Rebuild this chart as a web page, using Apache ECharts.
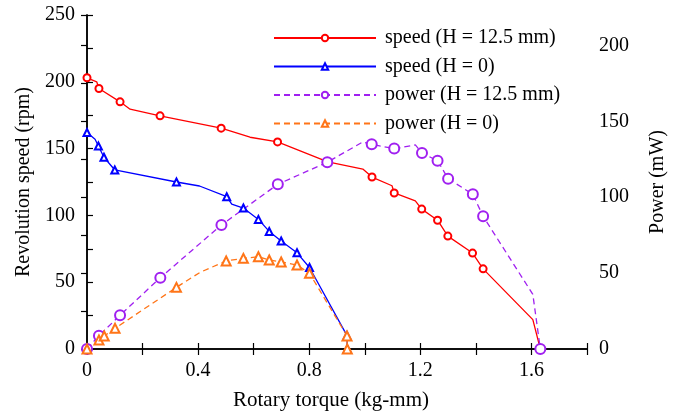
<!DOCTYPE html>
<html>
<head>
<meta charset="utf-8">
<script src="https://cdn.jsdelivr.net/npm/echarts@6/dist/echarts.min.js"></script>
<style>
  html, body { margin: 0; padding: 0; background: #fff; }
  #chart { width: 681px; height: 413px; }
</style>
</head>
<body>
<div id="chart"></div>
<script>
// Measured points (torque kg-mm, speed rpm / power mW)
const speedH125Points = [[0,203],[0.043,195],[0.119,185],[0.263,174.5],[0.483,165.3],[0.686,155],[0.867,140],[1.026,128.7],[1.106,116.8],[1.205,104.7],[1.262,96.4],[1.299,84.5],[1.388,71.8],[1.426,60],[1.632,0]];
const speedH125Bends  = [[0.035,200],[0.155,179.5],[0.587,158.5],[0.993,134.7],[1.098,122.2],[1.182,110.8],[1.605,22]];

const speedH0Points = [[0,162],[0.041,152],[0.061,143.5],[0.100,134],[0.322,125],[0.503,114],[0.563,105.5],[0.617,97],[0.656,88],[0.699,80.8],[0.756,72],[0.801,61],[0.936,10],[0.937,0]];
const speedH0Bends  = [[0.029,157],[0.405,122],[0.521,108.5]];

const powerH125Points = [[0,0],[0.043,8.8],[0.119,22.2],[0.264,47],[0.484,81.7],[0.687,108.5],[0.865,123],[1.025,134.8],[1.106,132],[1.206,129.1],[1.262,124],[1.300,112.2],[1.389,101.9],[1.426,87.4],[1.632,0]];
const powerH125Bends  = [[0.993,136.4],[1.182,134.4],[1.605,36]];

const powerH0Points = [[0,0],[0.043,5.9],[0.062,8.6],[0.101,13.6],[0.322,40.6],[0.501,58],[0.563,59.7],[0.617,60.8],[0.656,58.6],[0.699,57.3],[0.756,55.3],[0.801,49.9],[0.936,8.6],[0.937,0]];
const powerH0Bends  = [[0.407,50.5]];

const seriesNames = ['speed (H = 12.5 mm)', 'speed (H = 0)', 'power (H = 12.5 mm)', 'power (H = 0)'];
const xTickLabels = ['0', '0.4', '0.8', '1.2', '1.6'];

// Merge marked points with unmarked bend vertices, ordered along the curve
function buildCurve(points, bends) {
  const items = points.map(p => ({ value: p }));
  bends.forEach(b => items.push({ value: b, symbol: 'none' }));
  items.sort((a, b) => (a.value[0] - b.value[0]) || (b.value[1] - a.value[1]));
  return items;
}

const FONT = '"Liberation Serif", "DejaVu Serif", serif';
const chart = echarts.init(document.getElementById('chart'));

function lineSeries(name, points, bends, color, dashed, symbol, size, width, yIdx) {
  return {
    name: name,
    type: 'line',
    yAxisIndex: yIdx,
    data: buildCurve(points, bends),
    symbol: symbol,
    symbolSize: size,
    showSymbol: true,
    animation: false,
    lineStyle: { color: color, width: 1.3, type: dashed ? [6, 4] : 'solid' },
    itemStyle: { color: color, borderColor: color, borderWidth: width },
    emphasis: { disabled: true }
  };
}

chart.setOption({
  backgroundColor: '#fff',
  animation: false,
  grid: { left: 87, right: 94, top: 15, bottom: 64, containLabel: false, outerBoundsMode: 'none' },
  legend: {
    show: true,
    orient: 'vertical',
    left: 268,
    top: 23,
    itemWidth: 102,
    itemHeight: 8,
    itemGap: 8.5,
    textStyle: { fontFamily: FONT, fontSize: 20, color: '#000', padding: [0, 0, 0, 4] },
    data: seriesNames
  },
  xAxis: [{
    type: 'value',
    min: 0, max: 1.8, interval: 0.2,
    name: 'Rotary torque (kg-mm)',
    nameLocation: 'middle',
    nameGap: 41,
    nameTextStyle: { fontFamily: FONT, fontSize: 21, color: '#000', padding: [0, 12, 0, 0] },
    axisLine: { lineStyle: { color: '#000', width: 1.5 } },
    axisTick: { inside: true, length: 6, lineStyle: { color: '#000', width: 1.2 } },
    axisLabel: {
      fontFamily: FONT, fontSize: 20, color: '#000', margin: 12,
      formatter: v => { const k = Math.round(v * 10); return k % 4 === 0 && k <= 16 ? xTickLabels[k / 4] : ''; }
    },
    splitLine: { show: false }
  }, {
    type: 'value',
    position: 'top',
    min: 0, max: 1.8, interval: 0.2,
    axisLine: { lineStyle: { color: '#000', width: 1.5 } },
    axisTick: { inside: true, length: 6, lineStyle: { color: '#000', width: 1.2 } },
    axisLabel: { show: false },
    splitLine: { show: false }
  }],
  yAxis: [{
    type: 'value',
    min: 0, max: 250, interval: 25,
    name: 'Revolution speed (rpm)',
    nameLocation: 'middle',
    nameGap: 47,
    nameTextStyle: { fontFamily: FONT, fontSize: 20, color: '#000' },
    axisLine: { show: true, lineStyle: { color: '#000', width: 1.5 } },
    axisTick: { show: true, inside: true, length: 6, lineStyle: { color: '#000', width: 1.2 } },
    axisLabel: {
      fontFamily: FONT, fontSize: 20, color: '#000', margin: 12,
      formatter: v => (v % 50 === 0 ? String(v) : '')
    },
    splitLine: { show: false }
  }, {
    type: 'value',
    position: 'right',
    min: 0, max: 220, interval: 25,
    name: 'Power (mW)',
    nameLocation: 'middle',
    nameGap: 61,
    nameTextStyle: { fontFamily: FONT, fontSize: 20, color: '#000' },
    axisLine: { show: true, lineStyle: { color: '#000', width: 1.5 } },
    axisTick: { show: true, inside: true, length: 6, lineStyle: { color: '#000', width: 1.2 } },
    axisLabel: {
      fontFamily: FONT, fontSize: 20, color: '#000', margin: 12,
      formatter: v => (v % 50 === 0 && v <= 200 ? String(v) : '')
    },
    splitLine: { show: false }
  }],
  series: [
    lineSeries(seriesNames[0], speedH125Points, speedH125Bends, '#ff0000', false, 'emptyCircle', 7, 1.5, 0),
    lineSeries(seriesNames[1], speedH0Points, speedH0Bends, '#0000ff', false, 'emptyTriangle', 7, 1.3, 0),
    lineSeries(seriesNames[2], powerH125Points, powerH125Bends, '#a020f0', true, 'emptyCircle', 10, 2, 1),
    lineSeries(seriesNames[3], powerH0Points, powerH0Bends, '#ff7518', true, 'emptyTriangle', 9, 2, 1)
  ]
});
</script>
</body>
</html>
